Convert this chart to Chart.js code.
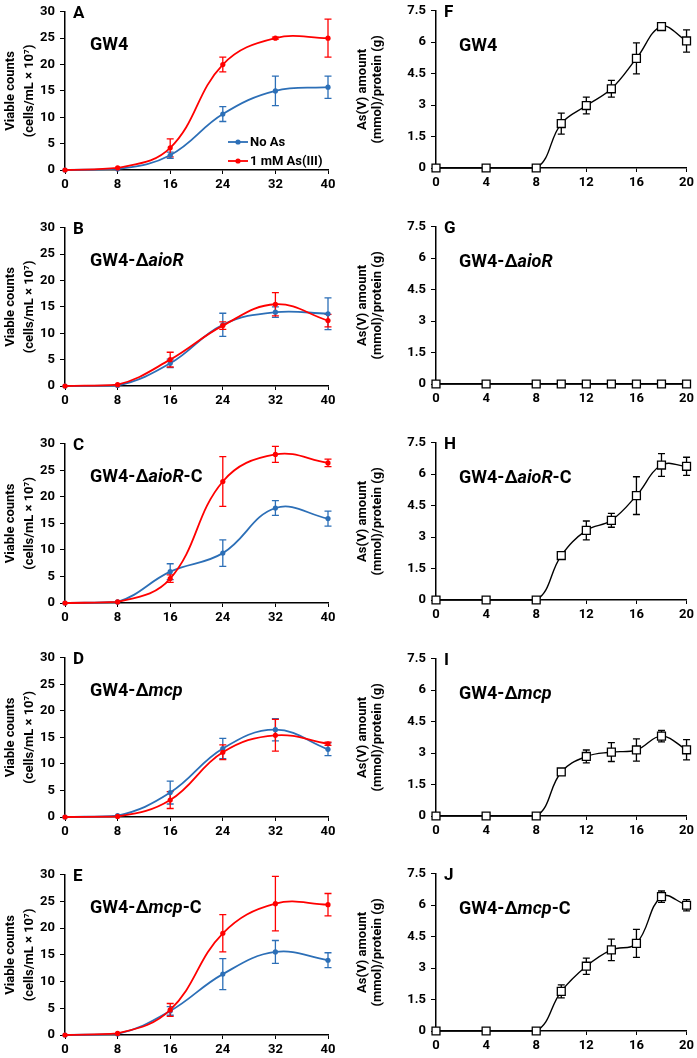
<!DOCTYPE html>
<html>
<head>
<meta charset="utf-8">
<script src="https://cdn.jsdelivr.net/npm/chart.js@4.4.1/dist/chart.umd.min.js"></script>
<style>
html, body { margin: 0; padding: 0; background: #fff; overflow: hidden; width: 697px; height: 1058px; }
canvas { position: absolute; }
</style>
</head>
<body>
<script>
const FONT = "Roboto, 'Liberation Sans', sans-serif";
const BLUE = '#2c6fb7';
const RED = '#ff0000';

// time axes and tick labels
const growthHours = [0, 8, 16, 24, 32, 40];
const asvHours = [0, 4, 8, 10, 12, 14, 16, 18, 20];
const growthXTicks = [0, 8, 16, 24, 32, 40];
const growthYTicks = [0, 5, 10, 15, 20, 25, 30];
const asvXTicks = [0, 4, 8, 12, 16, 20];
const asvYTicks = [0, 1.5, 3, 4.5, 6, 7.5];
const seriesNames = ['No As', '1 mM As(III)'];

// A: GW4
const gw4NoAs = [0, 0.2, 2.8, 10.6, 15.0, 15.7];
const gw4NoAsErr = [0, 0, 0.6, 1.4, 2.8, 2.1];
const gw4As = [0, 0.4, 4.2, 20.0, 25.0, 25.0];
const gw4AsErr = [0, 0, 1.7, 1.4, 0.2, 3.6];
// B: GW4-ΔaioR
const aioRNoAs = [0, 0.1, 4.3, 11.6, 14.0, 13.7];
const aioRNoAsErr = [0, 0, 0.8, 2.2, 1.0, 3.0];
const aioRAs = [0, 0.25, 5.0, 11.45, 15.5, 12.4];
const aioRAsErr = [0, 0, 1.4, 0.7, 2.2, 1.2];
// C: GW4-ΔaioR-C
const aioRCNoAs = [0, 0.2, 5.9, 9.4, 17.9, 15.9];
const aioRCNoAsErr = [0, 0, 1.5, 2.5, 1.4, 1.4];
const aioRCAs = [0, 0.2, 4.6, 22.9, 28.0, 26.4];
const aioRCAsErr = [0, 0, 0.7, 4.7, 1.5, 0.7];
// D: GW4-Δmcp
const mcpNoAs = [0, 0.25, 4.6, 12.9, 16.45, 12.75];
const mcpNoAsErr = [0, 0, 2.15, 1.9, 2.1, 1.2];
const mcpAs = [0, 0.1, 3.2, 12.2, 15.4, 13.8];
const mcpAsErr = [0, 0, 1.6, 1.4, 3.0, 0.3];
// E: GW4-Δmcp-C
const mcpCNoAs = [0, 0.2, 4.5, 11.4, 15.55, 14.0];
const mcpCNoAsErr = [0, 0, 0.8, 2.9, 2.15, 1.4];
const mcpCAs = [0, 0.3, 4.7, 19.05, 24.6, 24.4];
const mcpCAsErr = [0, 0, 1.2, 3.5, 5.1, 2.1];

// F-J: As(V) amount
const gw4Asv = [0, 0, 0, 2.12, 2.98, 3.78, 5.23, 6.75, 6.06];
const gw4AsvErr = [0, 0, 0, 0.5, 0.4, 0.4, 0.74, 0.15, 0.53];
const aioRAsv = [0, 0, 0, 0, 0, 0, 0, 0, 0];
const aioRAsvErr = [0, 0, 0, 0, 0, 0, 0, 0, 0];
const aioRCAsv = [0, 0, 0, 2.12, 3.32, 3.8, 4.98, 6.44, 6.38];
const aioRCAsvErr = [0, 0, 0, 0.15, 0.45, 0.33, 0.9, 0.54, 0.43];
const mcpAsv = [0, 0, 0, 2.1, 2.84, 3.05, 3.15, 3.81, 3.16];
const mcpAsvErr = [0, 0, 0, 0.15, 0.31, 0.45, 0.53, 0.27, 0.48];
const mcpCAsv = [0, 0, 0, 1.89, 3.09, 3.87, 4.18, 6.41, 6.0];
const mcpCAsvErr = [0, 0, 0, 0.31, 0.39, 0.51, 0.67, 0.27, 0.27];

// panel layout (plot area top/bottom in page pixels)
const panels = [
  { letter: 'A', col: 0, top: 9, bottom: 170, label: [['GW4']], growth: [gw4NoAs, gw4NoAsErr, gw4As, gw4AsErr], legend: true },
  { letter: 'B', col: 0, top: 225, bottom: 386, label: [['GW4-Δ'], ['aioR', true]], growth: [aioRNoAs, aioRNoAsErr, aioRAs, aioRAsErr] },
  { letter: 'C', col: 0, top: 441, bottom: 603, label: [['GW4-Δ'], ['aioR', true], ['-C']], growth: [aioRCNoAs, aioRCNoAsErr, aioRCAs, aioRCAsErr] },
  { letter: 'D', col: 0, top: 655, bottom: 817, label: [['GW4-Δ'], ['mcp', true]], growth: [mcpNoAs, mcpNoAsErr, mcpAs, mcpAsErr] },
  { letter: 'E', col: 0, top: 872, bottom: 1035, label: [['GW4-Δ'], ['mcp', true], ['-C']], growth: [mcpCNoAs, mcpCNoAsErr, mcpCAs, mcpCAsErr] },
  { letter: 'F', col: 1, top: 8, bottom: 168, label: [['GW4']], asv: [gw4Asv, gw4AsvErr] },
  { letter: 'G', col: 1, top: 224, bottom: 384, label: [['GW4-Δ'], ['aioR', true]], asv: [aioRAsv, aioRAsvErr] },
  { letter: 'H', col: 1, top: 440, bottom: 600, label: [['GW4-Δ'], ['aioR', true], ['-C']], asv: [aioRCAsv, aioRCAsvErr] },
  { letter: 'I', col: 1, top: 656, bottom: 816, label: [['GW4-Δ'], ['mcp', true]], asv: [mcpAsv, mcpAsvErr] },
  { letter: 'J', col: 1, top: 871, bottom: 1031, label: [['GW4-Δ'], ['mcp', true], ['-C']], asv: [mcpCAsv, mcpCAsvErr] },
];

const columns = [
  { left: 0, width: 340, axisW: 65, title: ['Viable counts', '(cells/mL × 10⁷)'], titleSize: 13, titleLH: 1.45, titlePad: 1, labelDy: 34 },
  { left: 350, width: 347, axisW: 86, title: ['As(V) amount', '(mmol)/protein (g)'], titleSize: 13, titleLH: 1.15, titlePad: 5, labelDy: 36 },
];

const toPoints = (xs, ys) => xs.map((x, i) => ({ x: x, y: ys[i] }));

// vertical error bars with caps, drawn under the markers
const errorBars = {
  id: 'errorBars',
  beforeDatasetsDraw(chart) {
    const { ctx, scales: { x, y } } = chart;
    chart.data.datasets.forEach(ds => {
      if (!ds.errors) return;
      ctx.save();
      ctx.strokeStyle = ds.borderColor;
      ctx.lineWidth = 1.3;
      ds.data.forEach((pt, j) => {
        const e = ds.errors[j];
        if (!e) return;
        const px = x.getPixelForValue(pt.x);
        const y1 = y.getPixelForValue(pt.y + e);
        const y2 = y.getPixelForValue(pt.y - e);
        ctx.beginPath();
        ctx.moveTo(px, y1); ctx.lineTo(px, y2);
        ctx.moveTo(px - 3.5, y1); ctx.lineTo(px + 3.5, y1);
        ctx.moveTo(px - 3.5, y2); ctx.lineTo(px + 3.5, y2);
        ctx.stroke();
      });
      ctx.restore();
    });
  }
};

// panel letter, strain name and (panel A) legend
const panelText = {
  id: 'panelText',
  afterDraw(chart, args, opts) {
    const { ctx, chartArea } = chart;
    ctx.save();
    ctx.fillStyle = '#000';
    ctx.textBaseline = 'alphabetic';
    ctx.textAlign = 'left';
    ctx.font = 'bold 17px ' + FONT;
    ctx.fillText(opts.letter, chartArea.left + 8, chartArea.top + 6);

    ctx.textBaseline = 'middle';
    let tx = chartArea.left + (opts.col === 0 ? 25 : 23);
    const ty = chartArea.top + opts.labelDy;
    opts.label.forEach(part => {
      ctx.font = (part[1] ? 'italic ' : '') + 'bold 18px ' + FONT;
      ctx.fillText(part[0], tx, ty);
      tx += ctx.measureText(part[0]).width;
    });

    if (opts.legend) {
      const x0 = chartArea.left + 163;
      ctx.font = 'bold 13px ' + FONT;
      chart.data.datasets.forEach((ds, i) => {
        const ly = chartArea.bottom - 28 + i * 19;
        ctx.strokeStyle = ds.borderColor;
        ctx.lineWidth = 1.8;
        ctx.beginPath(); ctx.moveTo(x0, ly); ctx.lineTo(x0 + 20, ly); ctx.stroke();
        ctx.fillStyle = ds.borderColor;
        ctx.beginPath(); ctx.arc(x0 + 10, ly, 2.6, 0, Math.PI * 2); ctx.fill();
        ctx.fillStyle = '#000';
        ctx.fillText(ds.label, x0 + 22, ly + 1);
      });
    }
    ctx.restore();
  }
};

function makeChart(p) {
  const col = columns[p.col];
  const padTop = 10, xAxisH = 22;
  const canvas = document.createElement('canvas');
  canvas.width = col.width;
  canvas.height = p.bottom - p.top + padTop + xAxisH;
  canvas.style.left = col.left + 'px';
  canvas.style.top = (p.top - padTop) + 'px';
  document.body.appendChild(canvas);

  let datasets;
  if (p.growth) {
    const [noAs, noAsErr, as3, as3Err] = p.growth;
    datasets = [
      { label: seriesNames[0], data: toPoints(growthHours, noAs), errors: noAsErr, borderColor: BLUE, pointBackgroundColor: BLUE, order: 1 },
      { label: seriesNames[1], data: toPoints(growthHours, as3), errors: as3Err, borderColor: RED, pointBackgroundColor: RED, order: 0 },
    ].map(d => Object.assign(d, { borderWidth: 1.8, pointRadius: 2.6, pointBorderWidth: 0, tension: 0.4, clip: false }));
  } else {
    datasets = [{
      label: 'As(V)', data: toPoints(asvHours, p.asv[0]), errors: p.asv[1],
      borderColor: '#000', borderWidth: 1.4, pointStyle: 'rect', pointRadius: 5.6,
      pointBackgroundColor: '#fff', pointBorderColor: '#000', pointBorderWidth: 1.3,
      tension: 0.4, clip: false
    }];
  }

  const xTicks = p.growth ? growthXTicks : asvXTicks;
  const yTicks = p.growth ? growthYTicks : asvYTicks;
  const tickFont = { family: FONT, size: 13, weight: 'bold' };

  new Chart(canvas, {
    type: 'line',
    data: { datasets: datasets },
    plugins: [errorBars, panelText],
    options: {
      responsive: false,
      animation: false,
      events: [],
      layout: { padding: { top: padTop, right: col.width - (p.col === 0 ? 328 : 687 - 350), bottom: 0, left: 0 } },
      plugins: {
        legend: { display: false },
        tooltip: { enabled: false },
        panelText: { letter: p.letter, label: p.label, legend: !!p.legend, col: p.col, labelDy: col.labelDy },
      },
      scales: {
        x: {
          type: 'linear',
          min: xTicks[0], max: xTicks[xTicks.length - 1],
          afterBuildTicks: s => { s.ticks = xTicks.map(v => ({ value: v })); },
          afterFit: s => { s.height = xAxisH; },
          grid: { drawOnChartArea: false, drawTicks: true, tickLength: 4, color: '#000', lineWidth: 1 },
          border: { color: '#000', width: 1.5 },
          ticks: { color: '#000', font: tickFont, padding: 3, maxRotation: 0, autoSkip: false },
        },
        y: {
          min: yTicks[0], max: yTicks[yTicks.length - 1],
          afterBuildTicks: s => { s.ticks = yTicks.map(v => ({ value: v })); },
          afterFit: s => { s.width = col.axisW; },
          grid: { drawOnChartArea: false, drawTicks: true, tickLength: 5, color: '#000', lineWidth: 1 },
          border: { color: '#000', width: 1.5 },
          ticks: { color: '#000', font: tickFont, padding: 5, autoSkip: false },
          title: {
            display: true, text: col.title, color: '#000',
            font: { family: FONT, size: col.titleSize, weight: 'bold', lineHeight: col.titleLH },
            padding: { top: col.titlePad, bottom: 0 },
          },
        },
      },
    },
  });
}

panels.forEach(makeChart);
</script>
</body>
</html>
